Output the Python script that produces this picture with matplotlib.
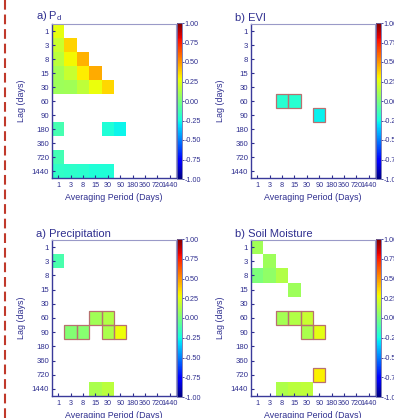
import numpy as np
import matplotlib
matplotlib.use("Agg")
import matplotlib.pyplot as plt
from matplotlib.lines import Line2D
from matplotlib.patches import Rectangle

plt.rcParams["font.family"] = ["Liberation Sans", "DejaVu Sans"]
plt.rcParams["mathtext.fontset"] = "custom"
plt.rcParams["mathtext.rm"] = "Liberation Sans"
plt.rcParams["lines.scale_dashes"] = False

TEXT = "#2e2e8f"
EDGE = "#b87070"
_ = np.nan

lags = [1, 3, 8, 15, 30, 60, 90, 180, 360, 720, 1440]
periods = [1, 3, 8, 15, 30, 90, 180, 360, 720, 1440]

# rows = lag, cols = averaging period
pd_vals = [
    [0.26, _, _, _, _, _, _, _, _, _],
    [0.19, 0.37, _, _, _, _, _, _, _, _],
    [0.15, 0.29, 0.44, _, _, _, _, _, _, _],
    [0.1, 0.18, 0.32, 0.46, _, _, _, _, _, _],
    [0.08, 0.09, 0.16, 0.27, 0.36, _, _, _, _, _],
    [_, _, _, _, _, _, _, _, _, _],
    [_, _, _, _, _, _, _, _, _, _],
    [-0.13, _, _, _, -0.22, -0.27, _, _, _, _],
    [_, _, _, _, _, _, _, _, _, _],
    [-0.14, _, _, _, _, _, _, _, _, _],
    [-0.18, -0.19, -0.2, -0.22, -0.22, _, _, _, _, _],
]
pd_sig = []

evi_vals = [
    [_, _, _, _, _, _, _, _, _, _],
    [_, _, _, _, _, _, _, _, _, _],
    [_, _, _, _, _, _, _, _, _, _],
    [_, _, _, _, _, _, _, _, _, _],
    [_, _, _, _, _, _, _, _, _, _],
    [_, _, -0.21, -0.21, _, _, _, _, _, _],
    [_, _, _, _, _, -0.28, _, _, _, _],
    [_, _, _, _, _, _, _, _, _, _],
    [_, _, _, _, _, _, _, _, _, _],
    [_, _, _, _, _, _, _, _, _, _],
    [_, _, _, _, _, _, _, _, _, _],
]
evi_sig = [(5, 2), (5, 3), (6, 5)]

precip_vals = [
    [_, _, _, _, _, _, _, _, _, _],
    [-0.12, _, _, _, _, _, _, _, _, _],
    [_, _, _, _, _, _, _, _, _, _],
    [_, _, _, _, _, _, _, _, _, _],
    [_, _, _, _, _, _, _, _, _, _],
    [_, _, _, 0.09, 0.13, _, _, _, _, _],
    [_, 0.02, 0.03, _, 0.11, 0.28, _, _, _, _],
    [_, _, _, _, _, _, _, _, _, _],
    [_, _, _, _, _, _, _, _, _, _],
    [_, _, _, _, _, _, _, _, _, _],
    [_, _, _, 0.11, 0.15, _, _, _, _, _],
]
precip_sig = [(5, 3), (5, 4), (6, 1), (6, 2), (6, 4), (6, 5)]

soil_vals = [
    [0.09, _, _, _, _, _, _, _, _, _],
    [_, 0.08, _, _, _, _, _, _, _, _],
    [0.0, 0.05, 0.13, _, _, _, _, _, _, _],
    [_, _, _, 0.08, _, _, _, _, _, _],
    [_, _, _, _, _, _, _, _, _, _],
    [_, _, 0.1, 0.13, 0.18, _, _, _, _, _],
    [_, _, _, _, 0.11, 0.25, _, _, _, _],
    [_, _, _, _, _, _, _, _, _, _],
    [_, _, _, _, _, _, _, _, _, _],
    [_, _, _, _, _, 0.31, _, _, _, _],
    [_, _, 0.12, 0.15, 0.16, _, _, _, _, _],
]
soil_sig = [(5, 2), (5, 3), (5, 4), (6, 4), (6, 5), (9, 5)]

panels = [
    ("a) P$_{\\rm d}$", pd_vals, pd_sig),
    ("b) EVI", evi_vals, evi_sig),
    ("a) Precipitation", precip_vals, precip_sig),
    ("b) Soil Moisture", soil_vals, soil_sig),
]

W, H = 394, 418
fig = plt.figure(figsize=(W / 100, H / 100), dpi=100)

# pixel boxes: (left, top, width, height)
boxes = [(52, 24, 124, 154), (251, 24, 124, 154),
         (52, 240, 124, 156), (251, 240, 124, 156)]

xe = np.arange(len(periods) + 1) - 0.5
ye = np.arange(len(lags) + 1) - 0.5

for (title, vals, sig), (l, t, w, h) in zip(panels, boxes):
    ax = fig.add_axes([l / W, 1 - (t + h) / H, w / W, h / H])
    data = np.ma.masked_invalid(np.array(vals, dtype=float))
    mesh = ax.pcolormesh(xe, ye, data, cmap="jet", vmin=-1, vmax=1)
    # outline the significant cells
    for r, c in sig:
        ax.add_patch(Rectangle((xe[c], ye[r]), 1, 1, fill=False,
                               edgecolor=EDGE, linewidth=0.9, zorder=3))
    ax.set_xlim(xe[0], xe[-1])
    ax.set_ylim(ye[-1], ye[0])
    ax.set_xticks(range(len(periods)))
    ax.set_xticklabels([str(p) for p in periods], fontsize=5.2, color=TEXT)
    ax.set_yticks(range(len(lags)))
    ax.set_yticklabels([str(g) for g in lags], fontsize=5.6, color=TEXT)
    ax.tick_params(direction="in", length=2.5, width=0.8, color=TEXT, pad=2)
    ax.tick_params(axis="x", pad=3)
    for s in ("left", "bottom"):
        ax.spines[s].set_color("#3a3a9a")
        ax.spines[s].set_linewidth(1.0)
    for s in ("top", "right"):
        ax.spines[s].set_color("#9a9ac8")
        ax.spines[s].set_linewidth(0.8)
    ax.set_xlabel("Averaging Period (Days)", fontsize=6.4, color=TEXT, labelpad=3)
    ax.set_ylabel("Lag (days)", fontsize=6.4, color=TEXT, labelpad=4)
    ax.text(-0.13, 1.008, title, transform=ax.transAxes, fontsize=8,
            color=TEXT, ha="left", va="bottom")

    cax = fig.add_axes([(l + w + 1) / W, 1 - (t + h + 1) / H, 5 / W, (h + 2) / H])
    cb = fig.colorbar(mesh, cax=cax, ticks=np.linspace(-1, 1, 9), format="%.2f")
    cb.outline.set_linewidth(0.6)
    cb.outline.set_edgecolor("#6a6aa8")
    cax.tick_params(labelsize=5.2, labelcolor=TEXT, length=1.5, width=0.6,
                    color=TEXT, pad=0.5)

# red dashed guide on the left edge
line = Line2D([5 / W, 5 / W], [0, 1], transform=fig.transFigure,
              color="#c0392b", linewidth=1.5, dashes=(7, 3.5))
fig.add_artist(line)

fig.savefig("out.png", dpi=100)
